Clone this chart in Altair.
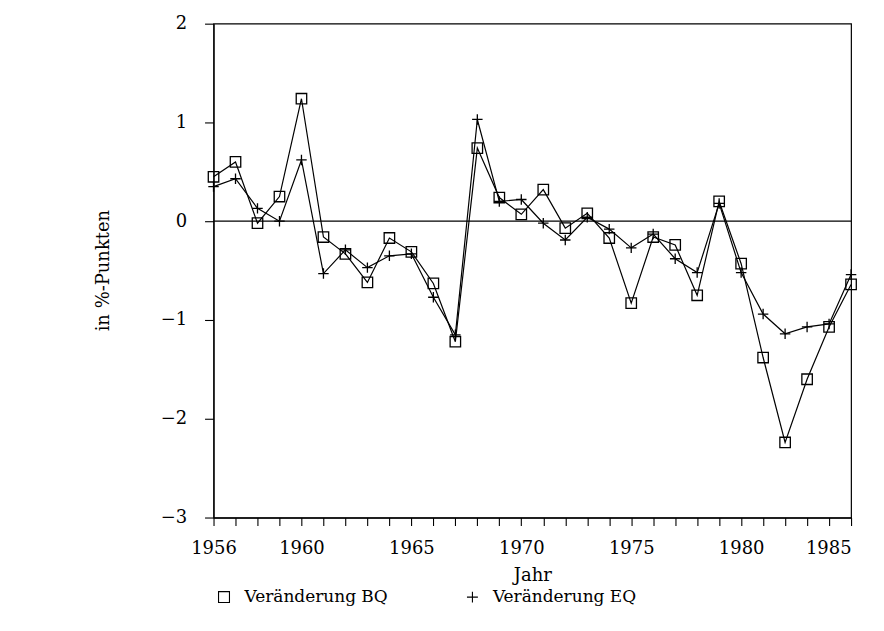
import altair as alt
import pandas as pd

years = list(range(1956, 1986))
bq = [0.45, 0.60, -0.02, 0.25, 1.24, -0.16, -0.33, -0.62, -0.17, -0.31,
      -0.63, -1.22, 0.74, 0.24, 0.07, 0.32, -0.07, 0.08, -0.17, -0.83,
      -0.16, -0.24, -0.75, 0.20, -0.43, -1.38, -2.24, -1.60, -1.07, -0.64]
eq = [0.35, 0.43, 0.13, 0.00, 0.62, -0.53, -0.29, -0.47, -0.35, -0.33,
      -0.77, -1.15, 1.03, 0.20, 0.22, -0.02, -0.19, 0.04, -0.08, -0.27,
      -0.13, -0.38, -0.52, 0.18, -0.52, -0.94, -1.14, -1.07, -1.04, -0.54]
series_names = ["Veränderung BQ", "Veränderung EQ"]
x_labels = [1956, 1960, 1965, 1970, 1975, 1980, 1985]
y_ticks = [-3, -2, -1, 0, 1, 2]

df = pd.DataFrame({
    "Jahr": years * 2,
    "wert": bq + eq,
    "serie": [series_names[0]] * len(years) + [series_names[1]] * len(years),
})

FONT = "DejaVu Serif"

x_enc = alt.X(
    "Jahr:Q",
    scale=alt.Scale(domain=[1956, 1985], nice=False, zero=False),
    axis=alt.Axis(
        title="Jahr",
        values=years,
        format="d",
        labelExpr="indexof(%s, datum.value) >= 0 ? datum.label : ''" % str(x_labels),
        labelAlign={"condition": {"test": "datum.value == 1985", "value": "right"}, "value": "center"},
        labelOverlap=False,
        labelBound=False,
        labelFlush=False,
        labelSeparation=0,
        labelFont=FONT,
        labelFontSize=18,
        titleFont=FONT,
        titleFontSize=18,
        titleFontWeight="normal",
        tickSize=8,
        labelPadding=14,
        titleY=58,
        titleBaseline="middle",
        grid=False,
    ),
)
y_enc = alt.Y(
    "wert:Q",
    scale=alt.Scale(domain=[-3, 2], nice=False),
    axis=alt.Axis(
        title="in %-Punkten",
        values=y_ticks,
        format="d",
        labelExpr="replace(datum.label, '-', '−')",
        labelOverlap=False,
        labelFont=FONT,
        labelFontSize=18,
        titleFont=FONT,
        titleFontSize=18,
        titleFontWeight="normal",
        tickSize=9,
        labelPadding=18,
        titleAngle=-90,
        titleX=-110,
        titleY=247,
        titleAlign="center",
        titleBaseline="middle",
        grid=False,
    ),
)

shape_scale = alt.Scale(domain=series_names, range=["square", "M-1,0H1M0,-1V1"])

base = alt.Chart(df)
lines = base.mark_line(color="black", strokeWidth=1.2).encode(
    x=x_enc, y=y_enc, detail="serie:N"
)
points = base.mark_point(filled=False, color="black", size=110, strokeWidth=1.3, opacity=1).encode(
    x=x_enc,
    y=y_enc,
    shape=alt.Shape(
        "serie:N",
        scale=shape_scale,
        legend=alt.Legend(
            title=None,
            orient="none",
            legendX=2,
            legendY=566,
            direction="horizontal",
            columnPadding=76,
            labelFont=FONT,
            labelFontSize=17,
            labelColor="black",
            labelOffset=12,
            symbolSize=120,
            symbolStrokeWidth=1.1,
            symbolStrokeColor="black",
            symbolFillColor="transparent",
        ),
    ),
)
zero = alt.Chart(pd.DataFrame({"wert": [0]})).mark_rule(color="black", strokeWidth=1.2).encode(
    y=y_enc
)

chart = (
    alt.layer(zero, lines, points)
    .properties(
        width=639,
        height=495,
        autosize=alt.AutoSizeParams(type="none"),
        padding={"left": 206, "top": 15, "right": 25, "bottom": 100},
    )
    .configure(font=FONT)
    .configure_view(stroke="black", strokeWidth=1.2)
    .configure_axis(
        labelColor="black",
        titleColor="black",
        domainColor="black",
        tickColor="black",
        domainWidth=1.2,
        tickWidth=1.1,
        labelOverlap=False,
    )
)

chart.save("out.html", embed_options={"renderer": "svg", "actions": False})
